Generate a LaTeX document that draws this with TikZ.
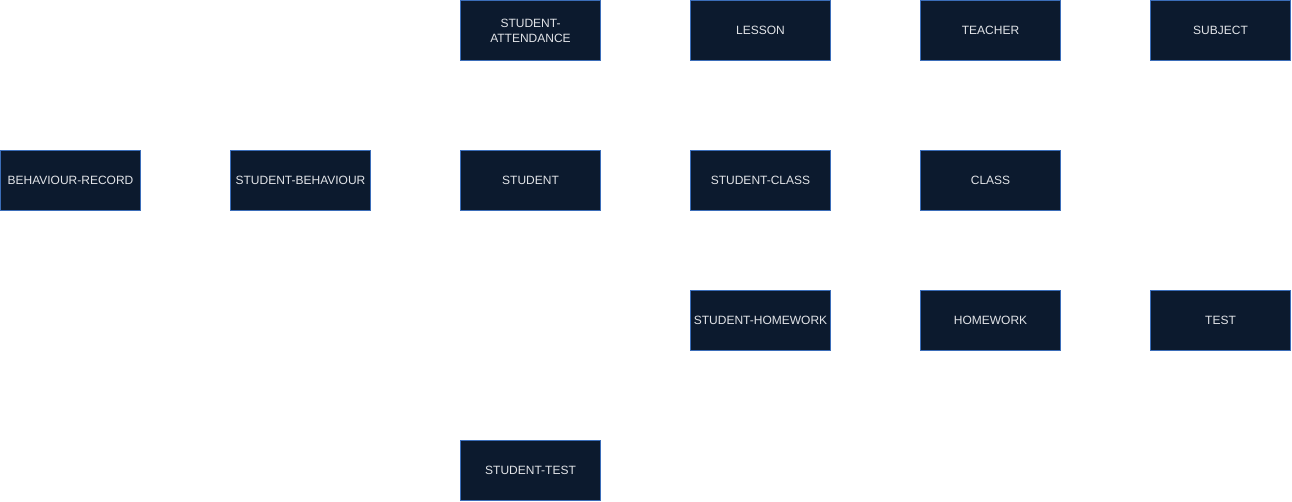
\documentclass[tikz,border=0pt]{standalone}
\usepackage{fontspec}
\setmainfont{Liberation Sans}
\usepackage{xcolor}
\definecolor{boxfill}{HTML}{0C1A2E}
\definecolor{boxline}{HTML}{3B6DB8}
\definecolor{boxtext}{HTML}{E2E4E8}

\tikzset{
  entity/.style={draw=boxline, fill=boxfill, line width=1pt,
    minimum width=140pt, minimum height=60pt, inner sep=1pt, outer sep=0pt,
    text=boxtext, align=center,
    font=\fontsize{12}{15}\selectfont}
}

\begin{document}
\begin{tikzpicture}[x=1pt, y=-1pt]
\useasboundingbox (0,0) rectangle (1292,502);
%left side
\node[entity] (behaviourrecord) at (70.5,180.5) {BEHAVIOUR-RECORD};
\node[entity] (studentbehaviour) at (300.5,180.5) {STUDENT-BEHAVIOUR};

%student column
\node[entity] (studentattendance) at (530.5,30.5) {STUDENT-\\ATTENDANCE};
\node[entity] (student) at (530.5,180.5) {STUDENT};
\node[entity] (studenttest) at (530.5,470.5) {STUDENT-TEST};

%middle column
\node[entity] (lesson) at (760.5,30.5) {LESSON};
\node[entity] (studentclass) at (760.5,180.5) {STUDENT-CLASS};
\node[entity] (studenthomework) at (760.5,320.5) {STUDENT-HOMEWORK};

%right columns
\node[entity] (teacher) at (990.5,30.5) {TEACHER};
\node[entity] (class) at (990.5,180.5) {CLASS};
\node[entity] (homework) at (990.5,320.5) {HOMEWORK};
\node[entity] (subject) at (1220.5,30.5) {SUBJECT};
\node[entity] (test) at (1220.5,320.5) {TEST};
\end{tikzpicture}
\end{document}
